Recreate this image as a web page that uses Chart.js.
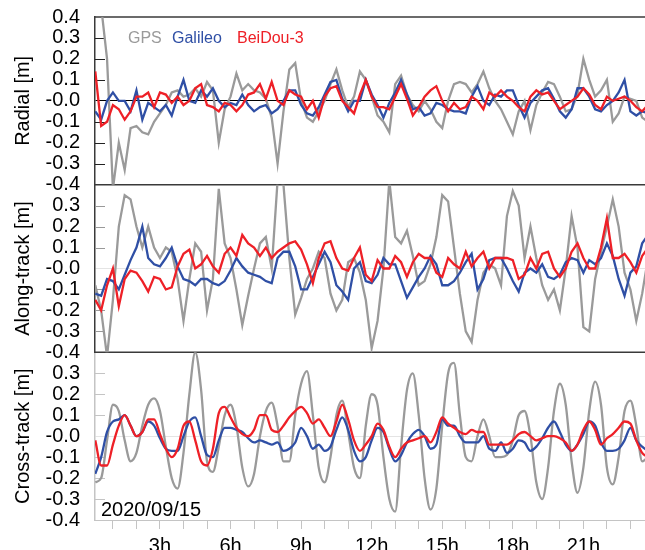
<!DOCTYPE html>
<html>
<head>
<meta charset="utf-8">
<script src="https://cdn.jsdelivr.net/npm/chart.js@4.4.1/dist/chart.umd.min.js"></script>
<style>
    html, body { margin: 0; padding: 0; background: #ffffff; }
    #caja { width: 645px; height: 550px; }
</style>
</head>
<body>
<div id="caja"><canvas id="graph_orbitas" width="645" height="550"></canvas></div>
<script>
// ############################## ORBIT ERRORS 2020/09/15 ############################### //
const horas = [
    0.25, 0.5, 0.75, 1, 1.25, 1.5, 1.75, 2, 2.25, 2.5,
    2.75, 3, 3.25, 3.5, 3.75, 4, 4.25, 4.5, 4.75, 5,
    5.25, 5.5, 5.75, 6, 6.25, 6.5, 6.75, 7, 7.25, 7.5,
    7.75, 8, 8.25, 8.5, 8.75, 9, 9.25, 9.5, 9.75, 10,
    10.25, 10.5, 10.75, 11, 11.25, 11.5, 11.75, 12, 12.25, 12.5,
    12.75, 13, 13.25, 13.5, 13.75, 14, 14.25, 14.5, 14.75, 15,
    15.25, 15.5, 15.75, 16, 16.25, 16.5, 16.75, 17, 17.25, 17.5,
    17.75, 18, 18.25, 18.5, 18.75, 19, 19.25, 19.5, 19.75, 20,
    20.25, 20.5, 20.75, 21, 21.25, 21.5, 21.75, 22, 22.25, 22.5,
    22.75, 23, 23.25, 23.5, 23.75
];
const sistemas = ['GPS', 'Galileo', 'BeiDou-3'];
const paneles = ['Radial [m]', 'Along-track [m]', 'Cross-track [m]'];
const fecha = '2020/09/15';

// radial
const radial_gps = [
    0.5, 0.45, 0.2, -0.42, -0.2, -0.33, -0.13, -0.12, -0.15, -0.16,
    -0.1, -0.06, -0.02, 0.04, 0.05, 0.02, 0.03, 0.06, 0.02, 0.09,
    0.05, -0.2, -0.04, 0.02, 0.13, 0.05, 0.08, 0.05, 0.04, 0.01,
    -0.08, -0.3, -0.05, 0.15, 0.18, 0.0, -0.08, -0.1, -0.05, 0.0,
    0.08, 0.15, 0.05, -0.03, 0.02, 0.14, 0.1, 0.02, -0.07, -0.1,
    -0.15, 0.08, 0.12, 0.03, -0.02, -0.05, 0.0, -0.04, -0.1, -0.13,
    0.0, 0.08, 0.09, 0.08, 0.04, 0.08, 0.14, 0.06, 0.0, -0.04,
    -0.1, -0.16, -0.05, 0.0, -0.14, -0.02, 0.04, 0.09, 0.08, 0.02,
    -0.05, -0.04, 0.03, 0.2, 0.1, 0.02, 0.05, 0.1, -0.1, -0.06,
    0.02, 0.01, 0.0, -0.08, -0.1
];
const radial_gal = [
    -0.05, -0.09, 0.0, 0.04, 0.0, 0.0, -0.05, 0.05, -0.09, -0.01,
    -0.03, -0.05, -0.02, -0.07, 0.02, 0.1, 0.0, -0.01, 0.05, 0.02,
    0.06, 0.0, -0.03, -0.01, -0.02, 0.03, -0.02, -0.05, -0.03, -0.02,
    -0.06, -0.04, 0.0, 0.05, 0.05, -0.02, -0.06, -0.07, -0.03, 0.03,
    0.09, 0.1, 0.01, -0.05, 0.0, 0.0, 0.1, 0.03, -0.02, -0.08,
    -0.01, 0.04, 0.1, 0.03, -0.04, -0.03, -0.07, -0.06, -0.01, -0.02,
    -0.04, -0.05, -0.05, -0.06, 0.02, 0.07, 0.0, -0.02, 0.03, 0.02,
    0.05, 0.05, -0.02, -0.08, -0.01, 0.02, 0.05, 0.06, 0.01, -0.05,
    -0.08, -0.04, 0.06, 0.06, 0.02, -0.04, -0.05, -0.02, 0.0, 0.04,
    0.1, -0.05, -0.07, -0.05, -0.06
];
const radial_bds = [
    0.14, -0.12, -0.1, -0.02, -0.04, -0.09, -0.05, 0.02, 0.02, 0.04,
    -0.03, 0.04, 0.03, -0.01, 0.02, -0.02, 0.0, 0.06, 0.08, -0.02,
    -0.03, -0.05, -0.01, -0.02, -0.05, -0.02, 0.03, 0.04, 0.08, 0.01,
    0.09, 0.0, -0.02, 0.05, 0.03, 0.02, -0.04, 0.0, -0.08, 0.02,
    0.06, 0.07, 0.0, -0.03, -0.06, 0.03, 0.1, 0.02, -0.03, -0.03,
    -0.04, 0.02, 0.08, 0.01, -0.07, -0.03, 0.02, 0.05, 0.07, 0.0,
    -0.05, -0.01, -0.04, -0.03, 0.02, 0.0, -0.04, 0.04, 0.02, 0.05,
    0.02, 0.0, -0.03, -0.05, 0.02, 0.05, 0.03, 0.04, 0.0, -0.04,
    -0.02, 0.0, 0.02, 0.06, 0.03, -0.02, -0.04, 0.02, 0.0, 0.01,
    0.02, 0.0, -0.03, -0.05, -0.02
];

// along-track
const along_gps = [
    -0.08, -0.2, -0.42, -0.15, 0.2, 0.35, 0.33, 0.2, 0.1, 0.2,
    0.1, 0.05, 0.1, 0.08, -0.05, -0.25, -0.05, 0.12, 0.08, -0.2,
    -0.05, 0.38, 0.12, 0.05, -0.1, -0.27, -0.13, 0.0, 0.12, 0.15,
    0.0, 0.42, 0.4, 0.05, -0.22, -0.14, -0.05, 0.0, 0.08, 0.05,
    -0.12, -0.2, -0.15, 0.03, 0.05, -0.02, -0.15, -0.38, -0.25, 0.0,
    0.42, 0.15, 0.12, 0.18, 0.06, -0.08, -0.06, 0.02, 0.15, 0.35,
    0.32, 0.1, -0.12, -0.3, -0.35, -0.15, -0.02, 0.02, 0.0, -0.08,
    0.25, 0.37, 0.3, 0.05, 0.2, 0.05, -0.08, -0.15, -0.1, -0.2,
    0.0, 0.25, 0.1, -0.28, -0.3, -0.05, 0.08, 0.2, 0.33, 0.2,
    -0.02, -0.1, -0.25, -0.12, 0.05
];
const along_gal = [
    -0.12, -0.13, -0.05, -0.06, -0.1, -0.03, 0.04, 0.1, 0.2, 0.05,
    0.02, 0.01, 0.05, 0.1, 0.01, -0.05, -0.06, -0.08, -0.05, -0.05,
    -0.07, -0.08, -0.06, -0.01, 0.05, 0.01, -0.02, -0.03, -0.04, -0.06,
    -0.07, 0.05, 0.08, 0.08, 0.01, -0.1, -0.1, -0.04, 0.02, 0.08,
    0.03, -0.08, -0.11, -0.15, 0.0, 0.03, -0.06, -0.07, -0.03, 0.05,
    0.02, 0.02, -0.06, -0.14, -0.09, -0.04, 0.0, 0.06, 0.02, -0.08,
    -0.08, -0.06, -0.02, 0.03, 0.07, -0.1, -0.05, 0.04, 0.05, 0.05,
    0.0, -0.06, -0.11, -0.02, 0.0, -0.02, 0.02, -0.04, -0.05, -0.03,
    0.03, 0.05, 0.04, -0.02, 0.04, 0.02, 0.05, 0.12, 0.06, -0.05,
    -0.13, -0.02, 0.01, 0.12, 0.16
];
const along_bds = [
    -0.15, -0.2, -0.08, 0.0, -0.18, -0.05, -0.01, -0.02, -0.06, -0.11,
    -0.04, -0.05, -0.1, -0.09, 0.01, 0.07, 0.09, 0.0, 0.02, 0.06,
    0.01, -0.02, 0.07, 0.1, 0.06, 0.16, 0.12, 0.1, 0.06, 0.1,
    0.05, 0.08, 0.1, 0.12, 0.13, 0.09, 0.02, -0.07, 0.05, 0.12,
    0.13, 0.05, 0.0, -0.01, 0.05, 0.1, -0.03, -0.06, 0.04, 0.0,
    0.0, 0.06, 0.03, -0.04, 0.03, 0.07, 0.05, 0.05, -0.02, -0.04,
    0.05, 0.02, 0.0, 0.08, 0.01, 0.05, 0.08, 0.0, 0.05, 0.05,
    0.05, 0.04, -0.05, -0.03, 0.05, 0.0, 0.07, 0.08, 0.0, -0.04,
    0.0, 0.08, 0.12, 0.05, 0.0, 0.0, 0.1, 0.24, 0.05, 0.05,
    0.07, 0.03, -0.02, 0.06, 0.1
];

// cross-track
const cross_gps = [
    -0.22, -0.2, -0.02, 0.15, 0.12, -0.02, -0.12, -0.08, 0.05, 0.15,
    0.18, 0.12, -0.05, -0.2, -0.25, -0.08, 0.2, 0.4, 0.22, -0.12,
    -0.17, -0.05, 0.1, 0.15, 0.05, -0.15, -0.24, -0.18, 0.0, 0.12,
    0.16, 0.05, -0.12, -0.12, 0.1, 0.25, 0.31, 0.1, -0.15, -0.22,
    -0.1, 0.1, 0.17, 0.02, -0.15, -0.2, 0.05, 0.2, 0.15, -0.1,
    -0.3, -0.36, -0.05, 0.22, 0.3, 0.1, -0.2, -0.35, -0.25, 0.05,
    0.3, 0.35, 0.1, -0.1, -0.12, 0.0, 0.08, 0.0, -0.1, -0.1,
    -0.09, -0.02, 0.1, 0.12, 0.0, -0.22, -0.3, -0.15, 0.12, 0.25,
    0.15, -0.12, -0.27, -0.15, 0.12, 0.26, 0.15, -0.15, -0.23, -0.1,
    0.12, 0.17, 0.05, -0.12, -0.1
];
const cross_gal = [
    -0.18, -0.1, 0.02, 0.07, 0.08, 0.1, 0.05, 0.0, 0.02, 0.07,
    0.05, -0.01, -0.06, -0.07, -0.07, 0.0, 0.07, 0.09, 0.0, -0.09,
    -0.1, -0.02, 0.04, 0.04, 0.03, 0.02, -0.01, -0.03, -0.02, -0.03,
    -0.04, -0.03, -0.07, -0.06, -0.03, 0.04, 0.0, -0.06, -0.04, -0.07,
    -0.05, 0.03, 0.09, 0.03, -0.07, -0.12, -0.1, -0.02, 0.04, 0.02,
    -0.06, -0.12, -0.09, -0.03, 0.01, 0.03, 0.0, -0.06, -0.04, 0.08,
    0.05, 0.05, 0.0, -0.03, -0.03, -0.03, 0.0, -0.06, -0.07, -0.03,
    -0.08, -0.06, -0.02, -0.03, -0.07, -0.05, -0.01, 0.04, 0.07, 0.02,
    -0.04, -0.07, -0.04, 0.01, 0.07, 0.05, -0.03, -0.07, -0.07, -0.06,
    -0.02, 0.04, -0.02, -0.05, -0.07
];
const cross_bds = [
    -0.02, -0.14, -0.14, -0.04, 0.05, 0.1, 0.05, 0.0, 0.02, 0.08,
    0.08, 0.01, -0.06, -0.1, -0.06, 0.05, 0.07, -0.02, -0.12, -0.14,
    -0.06, 0.11, 0.14, 0.09, 0.04, 0.01, 0.0, 0.03, 0.1, 0.1,
    0.03, 0.02, 0.05, 0.09, 0.12, 0.14, 0.11, 0.06, 0.08, 0.04,
    0.0, 0.07, 0.15, 0.08, -0.02, -0.07, -0.04, 0.0, 0.06, 0.03,
    -0.05, -0.1, -0.06, -0.03, -0.02, -0.01, 0.0, -0.03, 0.02, 0.09,
    0.06, 0.04, 0.02, 0.01, 0.03, 0.02, 0.02, -0.04, -0.04, -0.04,
    -0.04, -0.02, 0.01, 0.02, 0.0, -0.02, -0.01, 0.0, 0.0, -0.01,
    -0.03, -0.07, -0.04, 0.03, 0.07, 0.03, -0.04, -0.01, 0.01, 0.04,
    0.07, 0.06, -0.02, -0.08, -0.1
];

(function(){
    const fuente = "'Liberation Sans', Arial, Helvetica, sans-serif";
    const colores = ['#9a9a9a', '#2f4fa5', '#ee2027'];
    const ejes = ['yR', 'yA', 'yC'];

    const puntos = (valores) => horas.map((h, i) => ({x: h, y: valores[i]}));

    const datos_panel = [
        [radial_gps, radial_gal, radial_bds],
        [along_gps, along_gal, along_bds],
        [cross_gps, cross_gal, cross_bds]
    ];

    const datasets = [];
    datos_panel.forEach(function(grupo, p) {
        grupo.forEach(function(valores, s) {
            datasets.push({
                label: sistemas[s],
                data: puntos(valores),
                yAxisID: ejes[p],
                borderColor: colores[s],
                backgroundColor: colores[s],
                borderWidth: 2.3,
                pointRadius: 0,
                fill: false,
                order: 3 - s,
                tension: p === 2 ? 0.4 : 0,
                cubicInterpolationMode: p === 2 ? 'monotone' : 'default'
            });
        });
    });

    // y axis per panel (last defined goes on top of the stack)
    const eje_y = function(p, borde, cero) {
        return {
            type: 'linear',
            position: 'left',
            stack: 'paneles',
            stackWeight: 1,
            min: -0.4,
            max: 0.4,
            border: {display: true, color: borde, width: 1.5},
            grid: {
                drawTicks: false,
                lineWidth: 1,
                color: (c) => (c.tick && Math.abs(c.tick.value) < 1e-9) ? cero : 'rgba(0,0,0,0)'
            },
            ticks: {
                stepSize: 0.1,
                autoSkip: false,
                padding: 15,
                color: '#000',
                font: {family: fuente, size: 20},
                callback: function(value) {
                    const v = Math.round(value * 10) / 10;
                    if (v === 0) return '-0.0';
                    if (p > 0 && v === 0.4) return '';
                    return v.toFixed(1);
                }
            },
            title: {
                display: true,
                text: paneles[p],
                color: '#000',
                font: {family: fuente, size: 20},
                padding: {top: 11, bottom: 0}
            },
            afterFit: function(scale) {
                scale.width = 95;
                scale.paddingTop = 0;
                scale.paddingBottom = 0;
            }
        };
    };

    const marcos = {
        id: 'marcos',
        beforeDatasetsDraw(chart) {
            const ctx = chart.ctx;
            const {left, right} = chart.chartArea;
            const tick_col = ['#222', '#999', '#c4c4c4'];
            ctx.save();
            ejes.forEach(function(id, p) {
                const s = chart.scales[id];
                ctx.strokeStyle = tick_col[p];
                ctx.lineWidth = 1;
                s.ticks.forEach(function(t) {
                    const v = Math.abs(t.value);
                    if (v > 0.35 || v < 0.05) return;
                    const y = Math.round(s.getPixelForValue(t.value)) + 0.5;
                    ctx.beginPath();
                    ctx.moveTo(left, y);
                    ctx.lineTo(left + 10, y);
                    ctx.stroke();
                });
                ctx.strokeStyle = '#3a3a3a';
                ctx.lineWidth = 1.5;
                ctx.beginPath();
                ctx.moveTo(left, s.top);
                ctx.lineTo(right, s.top);
                ctx.stroke();
            });
            ctx.restore();
        },
        afterDraw(chart) {
            const ctx = chart.ctx;
            ctx.save();
            ctx.textBaseline = 'alphabetic';
            ctx.textAlign = 'left';
            ctx.font = '16px ' + fuente;
            const xs = [128, 172, 237];
            sistemas.forEach(function(nombre, i) {
                ctx.fillStyle = colores[i];
                ctx.fillText(nombre, xs[i], 43);
            });
            ctx.font = '20px ' + fuente;
            ctx.fillStyle = '#000';
            ctx.fillText(fecha, 101, 516);
            ctx.restore();
        }
    };

    const config = {
        type: 'line',
        data: {datasets: datasets},
        options: {
            responsive: false,
            animation: false,
            devicePixelRatio: 1,
            layout: {padding: {top: 17, right: 0, bottom: 0, left: 0}},
            scales: {
                x: {
                    type: 'linear',
                    position: 'bottom',
                    min: 0.238,
                    max: 23.62,
                    border: {display: true, color: '#c4c4c4', width: 1},
                    grid: {drawOnChartArea: false, drawTicks: true, tickLength: 9, color: '#c4c4c4'},
                    ticks: {
                        stepSize: 1,
                        autoSkip: false,
                        includeBounds: false,
                        maxRotation: 0,
                        padding: 5,
                        color: '#000',
                        font: {family: fuente, size: 20},
                        callback: (v) => (v % 3 === 0 ? v + 'h' : '')
                    },
                    afterFit: function(scale) {
                        scale.height = 30;
                        scale.paddingLeft = 0;
                        scale.paddingRight = 0;
                    }
                },
                yC: eje_y(2, '#c4c4c4', '#e4e4e4'),
                yA: eje_y(1, '#3a3a3a', '#e4e4e4'),
                yR: eje_y(0, '#3a3a3a', '#000000')
            },
            plugins: {
                legend: {display: false},
                tooltip: {enabled: false},
                title: {display: false}
            }
        },
        plugins: [marcos]
    };

    const orbit_chart = new Chart(
        document.getElementById('graph_orbitas'),
        config
    );
})();
// ###################################################################################### //
</script>
</body>
</html>
